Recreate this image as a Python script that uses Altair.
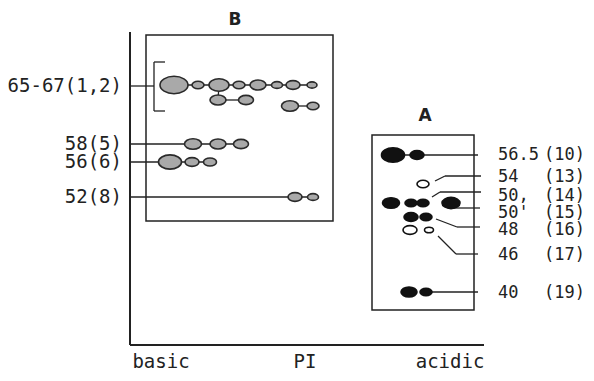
import altair as alt
import pandas as pd

# ---- spots of gel B (basic side), coordinates of the schematic ----
b_x = [174, 198, 219, 239, 258, 277, 293, 312, 218, 246, 290, 313, 193, 218, 241, 170, 192, 210, 295, 313]
b_y = [85, 85, 85, 85, 85, 85, 85, 85, 100, 100, 106, 106, 144, 144, 144, 162, 162, 162, 197, 197]
b_w = [28, 12, 20, 12, 16, 11, 14, 10, 16, 15, 17, 12, 17, 16, 15, 23, 14, 13, 14, 11]

# ---- spots of gel A (acidic side) ----
a_x = [393, 417, 423, 391, 411, 423, 451, 411, 426, 410, 429, 409, 426]
a_y = [155, 155, 184, 203, 203, 203, 203, 217, 217, 230, 230, 292, 292]
a_w = [23, 14, 12, 17, 12, 12, 18, 14, 12, 14, 9, 16, 12]
a_kind = ["filled", "filled", "open", "filled", "filled", "filled", "filled",
          "filled", "filled", "open", "open", "filled", "filled"]

# ---- connecting / leader line segments ----
seg_x1 = [131, 154, 154, 154, 174, 219, 218, 290, 131, 131, 131,
          393, 435, 445, 432, 440, 451, 436, 457, 438, 456, 426]
seg_y1 = [86, 62, 62, 111, 85, 85, 100, 106, 144, 162, 197,
          155, 181, 176, 197, 192, 208, 219, 227, 236, 254, 292]
seg_x2 = [154, 154, 165, 165, 312, 218, 246, 313, 241, 210, 313,
          478, 445, 481, 440, 481, 480, 457, 480, 456, 478, 478]
seg_y2 = [86, 111, 62, 111, 85, 100, 100, 106, 144, 162, 197,
          155, 176, 176, 192, 192, 208, 227, 227, 254, 254, 292]

# ---- labels ----
left_labels = ["65-67(1,2)", "58(5)", "56(6)", "52(8)"]
left_y = [86, 144, 162, 197]
right_mw = ["56.5", "54", "50,", "50'", "48", "46", "40"]
right_spot = ["(10)", "(13)", "(14)", "(15)", "(16)", "(17)", "(19)"]
right_y = [155, 177, 196, 213, 230, 255, 293]
axis_labels = ["basic", "PI", "acidic"]
axis_label_x = [161, 305, 450]
panel_names = ["B", "A"]
panel_x = [235, 425]
panel_y = [20, 116]

W, H = 578, 365
X = alt.X("x:Q", scale=alt.Scale(domain=[8, 8 + W], nice=False, zero=False), axis=None)
Y = alt.Y("y:Q", scale=alt.Scale(domain=[8 + H, 8], nice=False, zero=False), axis=None)

ELLIPSE = ("M -1 0 C -1 -0.342 -0.552 -0.62 0 -0.62 C 0.552 -0.62 1 -0.342 1 0 "
           "C 1 0.342 0.552 0.62 0 0.62 C -0.552 0.62 -1 0.342 -1 0 Z")

spots_b = pd.DataFrame({"x": b_x, "y": b_y, "s": [w * w for w in b_w]})
spots_a = pd.DataFrame({"x": a_x, "y": a_y, "s": [w * w for w in a_w], "kind": a_kind})
segs = pd.DataFrame({"x": seg_x1, "y": seg_y1, "x2": seg_x2, "y2": seg_y2})

frame = pd.DataFrame({"x": [130, 130], "y": [32, 345], "x2": [130, 484], "y2": [345, 345]})
boxes = pd.DataFrame({"x": [146, 372], "y": [35, 135], "x2": [333, 474], "y2": [221, 310]})

font = "DejaVu Sans Mono"
col = "#222222"

frame_l = alt.Chart(frame).mark_rule(color=col, strokeWidth=2).encode(
    x=X, y=Y, x2="x2:Q", y2="y2:Q")
box_l = alt.Chart(boxes).mark_rect(fill=None, stroke=col, strokeWidth=1.5).encode(
    x=X, y=Y, x2="x2:Q", y2="y2:Q")
seg_l = alt.Chart(segs).mark_rule(color=col, strokeWidth=1.3).encode(
    x=X, y=Y, x2="x2:Q", y2="y2:Q")

spot_b_l = alt.Chart(spots_b).mark_point(
    shape=ELLIPSE, filled=True, fill="#a9a9a9", stroke="#2a2a2a", strokeWidth=1.6, opacity=1
).encode(x=X, y=Y, size=alt.Size("s:Q", scale=None, legend=None))

spot_a_l = alt.Chart(spots_a).mark_point(
    shape=ELLIPSE, filled=True, stroke="#111111", strokeWidth=1.6, opacity=1
).encode(
    x=X, y=Y, size=alt.Size("s:Q", scale=None, legend=None),
    fill=alt.Fill("kind:N", scale=alt.Scale(domain=["filled", "open"], range=["#111111", "#ffffff"]), legend=None),
)

left_t = alt.Chart(pd.DataFrame({"x": [122] * 4, "y": left_y, "t": left_labels})).mark_text(
    align="right", baseline="middle", font=font, fontSize=19, color=col
).encode(x=X, y=Y, text="t:N")

mw_t = alt.Chart(pd.DataFrame({"x": [498] * 7, "y": right_y, "t": right_mw})).mark_text(
    align="left", baseline="middle", font=font, fontSize=17, color=col
).encode(x=X, y=Y, text="t:N")

sp_t = alt.Chart(pd.DataFrame({"x": [544] * 7, "y": right_y, "t": right_spot})).mark_text(
    align="left", baseline="middle", font=font, fontSize=17, color=col
).encode(x=X, y=Y, text="t:N")

ax_t = alt.Chart(pd.DataFrame({"x": axis_label_x, "y": [368] * 3, "t": axis_labels})).mark_text(
    align="center", baseline="alphabetic", font=font, fontSize=19, color=col
).encode(x=X, y=Y, text="t:N")

pn_t = alt.Chart(pd.DataFrame({"x": panel_x, "y": panel_y, "t": panel_names})).mark_text(
    align="center", baseline="middle", font="DejaVu Sans", fontSize=17, fontWeight="bold", color=col
).encode(x=X, y=Y, text="t:N")

chart = alt.layer(
    frame_l, box_l, seg_l, spot_b_l, spot_a_l, left_t, mw_t, sp_t, ax_t, pn_t
).properties(
    width=W, height=H, padding=0, autosize=alt.AutoSizeParams(type="none"),
    background="white",
).configure_view(strokeWidth=0)

chart.save("out.html", embed_options={"renderer": "svg", "actions": False})
